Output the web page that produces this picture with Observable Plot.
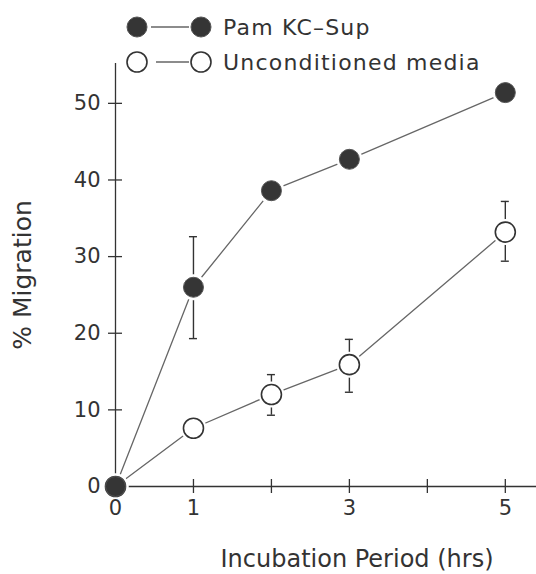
<!DOCTYPE html>
<html>
<head>
<meta charset="utf-8">
<script src="https://cdn.jsdelivr.net/npm/d3@7"></script>
<script src="https://cdn.jsdelivr.net/npm/@observablehq/plot@0.6"></script>
<style>
  html, body { margin: 0; padding: 0; background: #fff; }
  #wrap { position: relative; width: 536px; height: 574px; }
  #legend { position: absolute; left: 0; top: 0; }
  svg text { font-family: "DejaVu Sans", sans-serif; }
</style>
</head>
<body>
<div id="wrap">
  <div id="chart"></div>
  <svg id="legend" width="536" height="80"></svg>
</div>
<script>
// ---- data ----
const hours = [0, 1, 2, 3, 5];
const pamValues = [0, 26.0, 38.6, 42.7, 51.4];
const mediaValues = [0, 7.6, 12.0, 15.9, 33.2];

const pamErrHours = [1];
const pamErrLow = [19.3];
const pamErrHigh = [32.6];

const mediaErrHours = [2, 3, 5];
const mediaErrLow = [9.3, 12.3, 29.4];
const mediaErrHigh = [14.6, 19.2, 37.2];

const xTicks = [0, 1, 2, 3, 4, 5];
const xTickLabels = ["0", "1", "", "3", "", "5"];
const yTicks = [0, 10, 20, 30, 40, 50];

const seriesNames = ["Pam KC\u2013Sup", "Unconditioned media"];
const xLabel = "Incubation Period (hrs)";
const yLabel = "% Migration";

// ---- tables ----
const pam = hours.map((h, i) => ({x: h, y: pamValues[i]}));
const media = hours.map((h, i) => ({x: h, y: mediaValues[i]}));
const pamErr = pamErrHours.map((h, i) => ({x: h, lo: pamErrLow[i], hi: pamErrHigh[i]}));
const mediaErr = mediaErrHours.map((h, i) => ({x: h, lo: mediaErrLow[i], hi: mediaErrHigh[i]}));
const allErr = pamErr.concat(mediaErr);
const allPts = media.concat(pam);

const ink = "#333";
const lineInk = "#666";
const R = 10;

const chart = Plot.plot({
  width: 536,
  height: 574,
  marginLeft: 115,
  marginRight: 0,
  marginTop: 63,
  marginBottom: 88,
  style: {fontFamily: "DejaVu Sans, sans-serif", fontSize: "21px", color: ink, background: "#fff"},
  x: {domain: [0, 5.4]},
  y: {domain: [0, 55.2]},
  marks: [
    // axis lines
    Plot.ruleY([0], {stroke: ink, strokeWidth: 1.3}),
    Plot.ruleX([0], {stroke: ink, strokeWidth: 1.3}),
    // tick marks (outer halves)
    Plot.axisY(yTicks, {anchor: "left", tickSize: 7, stroke: ink, strokeWidth: 1.3, label: null, tickFormat: () => ""}),
    Plot.axisX(xTicks, {anchor: "bottom", tickSize: 7, stroke: ink, strokeWidth: 1.3, label: null, tickFormat: () => ""}),
    // inner halves of ticks
    Plot.ruleY(yTicks, {x1: 0, x2: 0, insetRight: -7, stroke: ink, strokeWidth: 1.3}),
    Plot.ruleX(xTicks, {y1: 0, y2: 0, insetTop: -7, stroke: ink, strokeWidth: 1.3}),
    // axis titles
    Plot.text([xLabel], {frameAnchor: "bottom", dx: 31, dy: 73, fill: ink, fontSize: 24, letterSpacing: "1px", textAnchor: "middle", lineAnchor: "middle"}),
    Plot.text([yLabel], {frameAnchor: "left", dx: -93, rotate: -90, fill: ink, fontSize: 25, letterSpacing: "1.5px", textAnchor: "middle", lineAnchor: "middle"}),
    // lines
    Plot.line(media, {x: "x", y: "y", stroke: lineInk, strokeWidth: 1.3}),
    Plot.line(pam, {x: "x", y: "y", stroke: lineInk, strokeWidth: 1.3}),
    // error bars
    Plot.ruleX(allErr, {x: "x", y1: "lo", y2: "hi", stroke: ink, strokeWidth: 1.4}),
    Plot.ruleY(allErr, {y: "hi", x1: "x", x2: "x", insetLeft: -4, insetRight: -4, stroke: ink, strokeWidth: 1.4}),
    Plot.ruleY(allErr, {y: "lo", x1: "x", x2: "x", insetLeft: -4, insetRight: -4, stroke: ink, strokeWidth: 1.4}),
    // white halos for gaps
    Plot.dot(allPts, {x: "x", y: "y", r: R + 3, fill: "#fff", stroke: "none"}),
    // markers
    Plot.dot(media, {x: "x", y: "y", r: R, fill: "#fff", stroke: ink, strokeWidth: 1.6}),
    Plot.dot(pam, {x: "x", y: "y", r: R, fill: "#353535", stroke: "#555", strokeWidth: 1}),
    // tick labels on top
    Plot.axisY(yTicks, {anchor: "left", tickSize: 0, tickPadding: 15, label: null, fill: ink, fontSize: 21, letterSpacing: "1.5px"}),
    Plot.axisX(xTicks, {anchor: "bottom", tickSize: 0, tickPadding: 14, label: null, fill: ink, fontSize: 21,
      tickFormat: d => xTickLabels[xTicks.indexOf(d)]})
  ]
});
document.getElementById("chart").appendChild(chart);

// ---- legend ----
const lg = d3.select("#legend");
const rows = [
  {name: seriesNames[0], y: 27, filled: true, x1: 151},
  {name: seriesNames[1], y: 62, filled: false, x1: 156}
];
rows.forEach(r => {
  lg.append("line").attr("x1", r.x1).attr("x2", 189).attr("y1", r.y).attr("y2", r.y)
    .attr("stroke", lineInk).attr("stroke-width", 1.3);
  [137, 201].forEach(cx => {
    lg.append("circle").attr("cx", cx).attr("cy", r.y).attr("r", R)
      .attr("fill", r.filled ? "#353535" : "#fff")
      .attr("stroke", r.filled ? "#555" : ink)
      .attr("stroke-width", r.filled ? 1 : 1.6);
  });
  lg.append("text").attr("x", 223).attr("y", r.y).attr("dy", "0.36em")
    .attr("fill", ink).attr("font-size", 22).attr("letter-spacing", "1.2px")
    .text(r.name);
});
</script>
</body>
</html>
